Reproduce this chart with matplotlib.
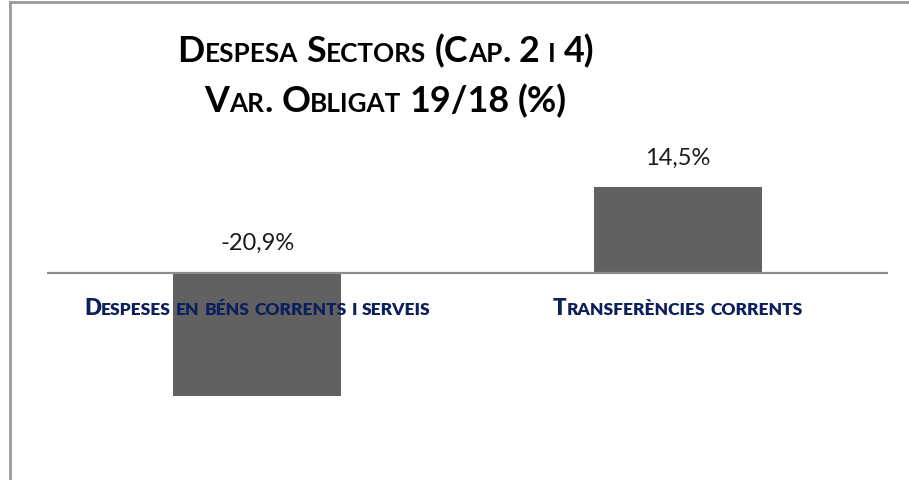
import matplotlib
matplotlib.use("Agg")
import matplotlib.pyplot as plt
from matplotlib.lines import Line2D
from matplotlib.offsetbox import TextArea, HPacker, AnnotationBbox

categories = ["Despeses en béns corrents i serveis", "Transferències corrents"]
values = [-20.9, 14.5]
value_labels = ["-20,9%", "14,5%"]
title_lines = ["Despesa Sectors (Cap. 2 i 4)", "Var. Obligat 19/18 (%)"]

FONT = "Lato"
W, H = 909, 481


def fx(px):
    return px / W


def fy(py):
    return 1 - py / H


def small_caps(text, big, small, color, space, weight="bold"):
    # lowercase letters -> smaller capitals, everything else at full size
    words = []
    for word in text.split(" "):
        runs = []
        for ch in word:
            is_small = ch.isalpha() and ch.islower()
            if runs and runs[-1][1] == is_small:
                runs[-1][0] += ch
            else:
                runs.append([ch, is_small])
        boxes = [TextArea(t.upper(), textprops=dict(fontsize=small if s else big,
                                                     fontweight=weight, color=color,
                                                     family=FONT))
                 for t, s in runs]
        words.append(HPacker(children=boxes, align="baseline", pad=0, sep=0))
    return HPacker(children=words, align="baseline", pad=0, sep=space)


fig = plt.figure(figsize=(W / 100, H / 100), dpi=100)
ax = fig.add_axes([fx(47), fy(470), fx(888) - fx(47), fy(140) - fy(470)])

x = list(range(len(categories)))
ax.bar(x, values, width=0.4, color="#616161", zorder=2)
ax.axhline(0, color="#8c8c8c", lw=1.6, zorder=3)
ax.set_xlim(-0.5, 1.5)
ax.set_ylim(-33.2, 22.7)
ax.axis("off")

for i, (v, lab) in enumerate(zip(values, value_labels)):
    ax.annotate(lab, (i, max(v, 0)), xytext=(0, 22), textcoords="offset points",
                ha="center", va="center", fontsize=17, color="#1a1a1a", family=FONT)

for i, cat in enumerate(categories):
    box = small_caps(cat, 16, 12.5, "#0d1f5c", 3.5, weight="heavy")
    ab = AnnotationBbox(box, (i, 0), xybox=(0, -25), xycoords="data",
                        boxcoords="offset points", frameon=False,
                        box_alignment=(0.5, 0.5), zorder=5)
    ax.add_artist(ab)

for line, ypx in zip(title_lines, [51, 101]):
    box = small_caps(line, 25.8, 18.8, "black", 6)
    ab = AnnotationBbox(box, (fx(386), fy(ypx)), xycoords="figure fraction",
                        frameon=False, box_alignment=(0.5, 0.5))
    fig.add_artist(ab)

# chart frame, only the left and top edges are visible
fig.add_artist(Line2D([fx(10), fx(10)], [fy(3), 0], color="#999999", lw=2))
fig.add_artist(Line2D([fx(10), 1], [fy(3), fy(3)], color="#999999", lw=2))

fig.savefig("out.png", dpi=100)
